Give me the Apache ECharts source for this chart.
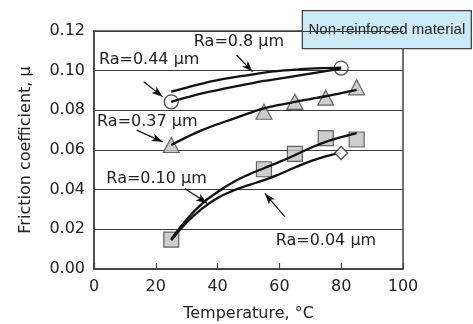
<!DOCTYPE html>
<html><head><meta charset="utf-8">
<script src="https://cdn.jsdelivr.net/npm/echarts@6/dist/echarts.min.js"></script>
<style>html,body{margin:0;padding:0;background:#fff}#c{width:473px;height:324px}</style>
</head><body><div id="c"></div>
<script>
// Measured points
const triT = [25, 55, 65, 75, 85];
const triMu = [0.0625, 0.0793, 0.0843, 0.0864, 0.0916];      // Ra=0.37 µm
const sqT = [25, 55, 65, 75, 85];
const sqMu = [0.0148, 0.0503, 0.0580, 0.0660, 0.0653];       // Ra=0.10 µm
const circT = [25, 80];
const circMu = [0.0843, 0.1013];                              // Ra=0.44 / 0.8 µm
const diaT = [80];
const diaMu = [0.0585];                                       // Ra=0.04 µm

// Fitted curves
const curveT = [25, 30, 35, 40, 45, 50, 55, 60, 65, 70, 75, 80, 85];
const fit08  = [0.0894, 0.0915, 0.0935, 0.0952, 0.0966, 0.0978, 0.0990, 0.0999, 0.1005, 0.1010, 0.1013, 0.1015];
const fit044 = [0.0843, 0.0865, 0.0885, 0.0902, 0.0918, 0.0933, 0.0948, 0.0960, 0.0972, 0.0985, 0.0998, 0.1012];
const fit037 = [0.0625, 0.0665, 0.0700, 0.0730, 0.0757, 0.0785, 0.0810, 0.0827, 0.0843, 0.0857, 0.0871, 0.0887, 0.0903];
const fit010 = [0.0150, 0.0250, 0.0330, 0.0388, 0.0437, 0.0476, 0.0508, 0.0540, 0.0574, 0.0610, 0.0641, 0.0665, 0.0685];
const fit004 = [0.0145, 0.0235, 0.0305, 0.0358, 0.0395, 0.0423, 0.0448, 0.0478, 0.0512, 0.0543, 0.0568, 0.0585];

const xTicks = [0, 20, 40, 60, 80, 100];
const yTicks = [0, 0.02, 0.04, 0.06, 0.08, 0.10, 0.12];

const labelTexts = ['Ra=0.8 \u00b5m', 'Ra=0.44 \u00b5m', 'Ra=0.37 \u00b5m', 'Ra=0.10 \u00b5m', 'Ra=0.04 \u00b5m'];
const labelAt = [[32.3, 0.1145], [1.6, 0.1054], [1.0, 0.0742], [4.0, 0.0457], [58.8, 0.0140]];
const arrowFrom = [[46.1, 0.1079], [16.1, 0.0944], [13.8, 0.0700], [29.4, 0.0406], [61.8, 0.0263]];
const arrowTo   = [[51.3, 0.0995], [22.2, 0.0869], [22.2, 0.0641], [36.6, 0.0332], [55.3, 0.0381]];

const zip = (a, b) => a.map((v, i) => [v, b[i]]).filter(p => p[1] !== undefined);
const FONT = 'DejaVu Sans';
const chart = echarts.init(document.getElementById('c'), null, {renderer: 'canvas'});

const lineStyle = {color: '#111', width: 2.3};
function curve(vals) {
  return {type: 'line', data: zip(curveT, vals), smooth: true, showSymbol: false, symbol: 'none',
    lineStyle: lineStyle, z: 5, silent: true};
}
const markerStyle = {color: '#c0c0c0', borderColor: '#444', borderWidth: 1.2};

chart.setOption({
  animation: false,
  grid: {left: 94, right: 70, top: 31, bottom: 55, containLabel: false, outerBoundsMode: 'none',
    show: true, borderColor: '#444', borderWidth: 1.5, backgroundColor: 'transparent'},
  xAxis: {
    type: 'value', min: 0, max: 100, interval: 20,
    axisLine: {show: true, lineStyle: {color: '#444', width: 1.5}},
    axisTick: {show: true, inside: true, length: 6, lineStyle: {color: '#444', width: 1.2}},
    splitLine: {show: false},
    axisLabel: {fontFamily: FONT, fontSize: 16, color: '#222', margin: 10,
      formatter: v => xTicks.includes(v) ? String(v) : ''},
    name: 'Temperature, \u00b0C', nameLocation: 'middle', nameGap: 37,
    nameTextStyle: {fontFamily: FONT, fontSize: 16, color: '#222'}
  },
  yAxis: {
    type: 'value', min: 0, max: 0.12, interval: 0.02,
    axisLine: {show: true, lineStyle: {color: '#444', width: 1.5}},
    axisTick: {show: false},
    splitLine: {show: true, lineStyle: {color: '#3a3a3a', width: 1}},
    axisLabel: {fontFamily: FONT, fontSize: 16, color: '#222', margin: 9,
      formatter: v => { const t = yTicks.find(k => Math.abs(k - v) < 1e-9); return t === undefined ? '' : t.toFixed(2); }},
    name: 'Friction coefficient, \u00b5', nameLocation: 'middle', nameGap: 60,
    nameTextStyle: {fontFamily: FONT, fontSize: 16, color: '#222'}
  },
  series: [
    {type: 'scatter', data: zip(triT, triMu), symbol: 'triangle', symbolSize: [16, 15], itemStyle: markerStyle, z: 3},
    {type: 'scatter', data: zip(sqT, sqMu), symbol: 'rect', symbolSize: 15, itemStyle: markerStyle, z: 3},
    curve(fit08), curve(fit044), curve(fit037), curve(fit010), curve(fit004),
    {type: 'scatter', data: zip(circT, circMu), symbol: 'circle', symbolSize: 14,
      itemStyle: {color: 'rgba(255,255,255,0)', borderColor: '#222', borderWidth: 1.3}, z: 6},
    {type: 'scatter', data: zip(diaT, diaMu), symbol: 'diamond', symbolSize: 13,
      itemStyle: {color: '#fff', borderColor: '#222', borderWidth: 1.3}, z: 6},
    {type: 'scatter', data: [], z: 7, silent: true,
      markLine: {silent: true, animation: false, symbol: ['none', 'arrow'], symbolSize: [6, 11],
        lineStyle: {color: '#111', width: 1.2, type: 'solid'}, label: {show: false},
        data: arrowFrom.map((f, i) => [{coord: f}, {coord: arrowTo[i]}])},
      markPoint: {silent: true, animation: false, symbol: 'circle', symbolSize: 0,
        label: {show: true, position: 'right', distance: 0, fontFamily: FONT, fontSize: 16, color: '#222',
          formatter: p => p.name},
        data: labelTexts.map((t, i) => ({name: t, coord: labelAt[i]}))}
    }
  ],
  graphic: [{
    type: 'group', right: 1, top: 10, z: 100,
    children: [
      {type: 'rect', shape: {x: 0, y: 0, width: 169, height: 38}, style: {fill: '#cdeaf8', stroke: '#444', lineWidth: 1.3}},
      {type: 'text', x: 84.5, y: 19, style: {text: 'Non-reinforced material', font: '15px "Liberation Sans"', fill: '#222', textAlign: 'center', textVerticalAlign: 'middle'}}
    ]
  }]
});
</script></body></html>
